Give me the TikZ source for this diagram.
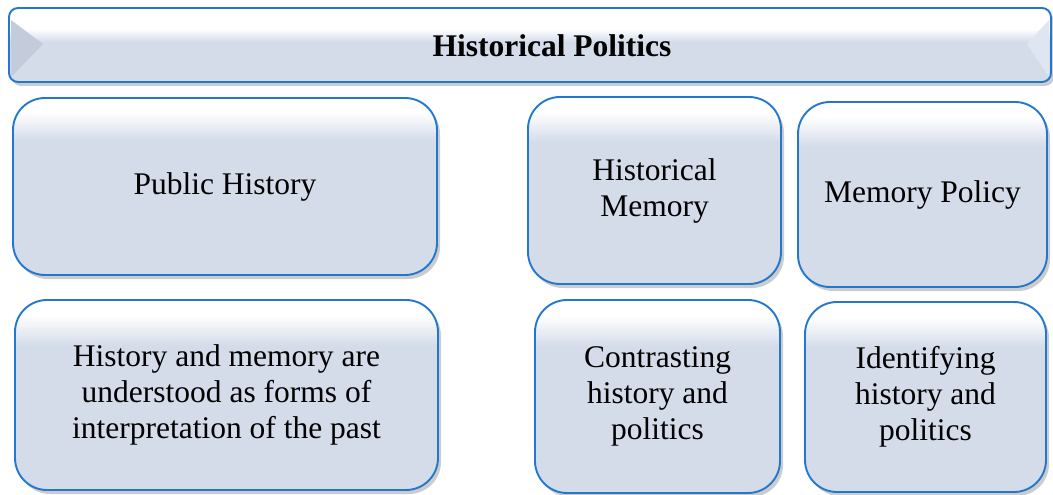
\documentclass[tikz,border=0pt]{standalone}
\usepackage{fontspec}
\setmainfont{Liberation Serif}
\usetikzlibrary{shadows, positioning}
\definecolor{boxline}{RGB}{34,120,206}
\definecolor{boxfill}{RGB}{212,220,234}
\definecolor{tipdark}{RGB}{196,204,220}
\definecolor{tiplight}{RGB}{224,230,241}
\pgfdeclareverticalshading{panelshade}{100bp}{color(0bp)=(boxfill); color(25bp)=(boxfill); color(63bp)=(boxfill); color(71bp)=(white); color(100bp)=(white)}
\pgfdeclareverticalshading{bannershade}{100bp}{color(0bp)=(boxfill); color(25bp)=(boxfill); color(52bp)=(boxfill); color(61bp)=(white); color(100bp)=(white)}
\tikzset{
  panel/.style={draw=boxline, line width=1.9pt, shading=panelshade, rounded corners=32pt, inner sep=0pt, align=center,
    font=\fontsize{31.5}{36}\selectfont, drop shadow={shadow xshift=3pt, shadow yshift=-4pt, opacity=.4}},
  banner/.style={panel, shading=bannershade, rounded corners=9pt}
}
\begin{document}
\begin{tikzpicture}[x=1pt, y=-1pt]
        \useasboundingbox (0, 0) rectangle (1053, 495);
        \node[banner, minimum width=1042pt, minimum height=74pt] (politics) at (530, 45) {};
        \fill[tipdark] (11, 20) -- (43, 44) -- (11, 77) -- cycle;
        \fill[tiplight] (1049, 20) -- (1027, 44) -- (1049, 77) -- cycle;
        \node[font=\fontsize{31.5}{36}\selectfont\bfseries] (politicstext) at (552, 46) {Historical Politics};
        \node[panel, minimum width=424pt, minimum height=177pt] (public) at (225, 186.5) {Public History};
        \node[panel, minimum width=253pt, minimum height=187pt] (memory) at (654.5, 190.5) {Historical\\Memory};
        \node[panel, minimum width=249pt, minimum height=185pt] (policy) at (922.5, 194.5) {Memory Policy};
        \node[panel, minimum width=423pt, minimum height=190pt] (forms) at (226.5, 395) {History and memory are\\understood as forms of\\interpretation of the past};
        \node[panel, minimum width=245pt, minimum height=193pt] (contrast) at (657.5, 396.5) {Contrasting\\history and\\politics};
        \node[panel, minimum width=241pt, minimum height=190pt] (identify) at (925.5, 397) {Identifying\\history and\\politics};
\end{tikzpicture}
\end{document}
